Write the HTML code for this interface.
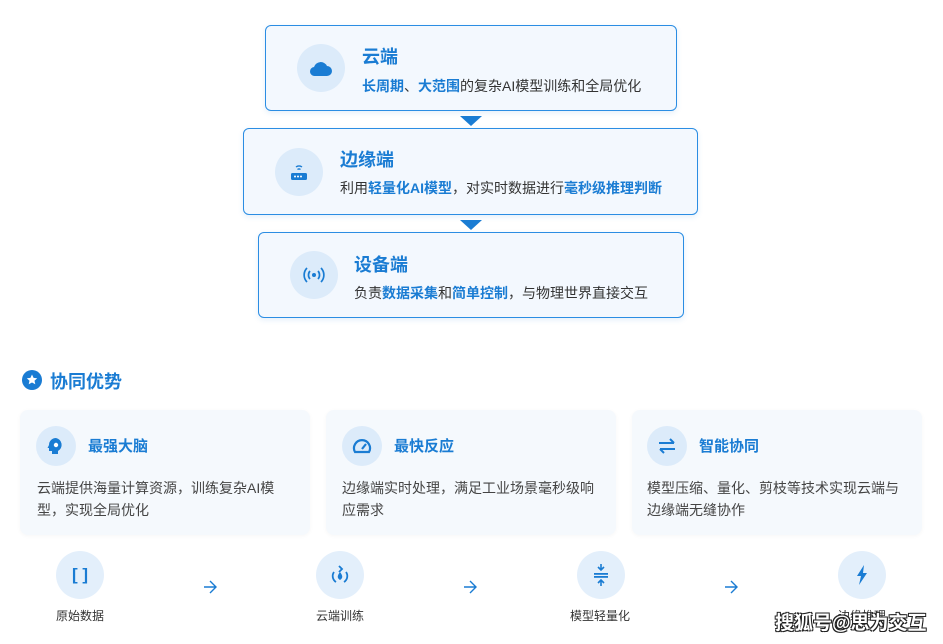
<!DOCTYPE html>
<html><head><meta charset="utf-8"><style>
*{margin:0;padding:0;box-sizing:border-box}
body{width:943px;height:644px;background:#fff;position:relative;overflow:hidden;font-family:"Liberation Sans","Noto Sans CJK SC",sans-serif;color:#333}
.a{position:absolute}
.box{position:absolute;border:1.5px solid #2b8de3;border-radius:6px;background:#f3f8fe;box-shadow:0 2px 6px rgba(30,120,210,0.12)}
.ic{position:absolute;border-radius:50%;background:#dcebfa;display:flex;align-items:center;justify-content:center}
.t{position:absolute;font-size:18px;font-weight:bold;color:#1a7cd3;white-space:nowrap;line-height:1}
.s{position:absolute;font-size:14px;color:#333;white-space:nowrap;line-height:1}
.s b{color:#1a7cd3;font-weight:600}
.tri{position:absolute;width:0;height:0;border-left:11px solid transparent;border-right:11px solid transparent;border-top:10px solid #1a7cd3}
.card{position:absolute;top:410px;width:290px;height:125px;background:#f5f9fd;border-radius:8px;box-shadow:0 1px 4px rgba(0,0,0,0.04)}
.ct{position:absolute;font-size:15px;font-weight:bold;color:#1a7cd3;line-height:1;white-space:nowrap}
.cx{position:absolute;font-size:14px;color:#444;line-height:22px}
.fl{position:absolute;font-size:12px;color:#333;white-space:nowrap;line-height:1}
</style></head><body>

<div class="box" style="left:265px;top:25px;width:412px;height:86px"></div>
<div class="ic" style="left:297px;top:44px;width:48px;height:48px"><svg width="24" height="18" viewBox="0 0 24 18"><path d="M6 17h12a5 5 0 0 0 0-10 7 7 0 0 0-13 1 4.5 4.5 0 0 0 1 9z" fill="#1a7cd3"/></svg></div>
<div class="t" style="left:362px;top:48px">云端</div>
<div class="s" style="left:362px;top:79px"><b>长周期</b>、<b>大范围</b>的复杂AI模型训练和全局优化</div>
<div class="tri" style="left:460px;top:116px"></div>

<div class="box" style="left:243px;top:128px;width:455px;height:87px"></div>
<div class="ic" style="left:275px;top:148px;width:48px;height:48px"><svg width="22" height="20" viewBox="0 0 22 20"><path d="M8 5a5 5 0 0 1 6 0M9.5 7.5a2.5 2.5 0 0 1 3 0" stroke="#1a7cd3" stroke-width="1.4" fill="none"/><rect x="3" y="11" width="16" height="7" rx="1.5" fill="#1a7cd3"/><circle cx="7" cy="14.5" r="1" fill="#fff"/><circle cx="10" cy="14.5" r="1" fill="#fff"/><circle cx="13" cy="14.5" r="1" fill="#fff"/></svg></div>
<div class="t" style="left:340px;top:151px">边缘端</div>
<div class="s" style="left:340px;top:181px">利用<b>轻量化AI模型</b>，对实时数据进行<b>毫秒级推理判断</b></div>
<div class="tri" style="left:460px;top:220px"></div>

<div class="box" style="left:258px;top:232px;width:426px;height:86px"></div>
<div class="ic" style="left:290px;top:251px;width:48px;height:48px"><svg width="24" height="16" viewBox="0 0 24 16"><circle cx="12" cy="8" r="2" fill="#1a7cd3"/><path d="M8 4a6 6 0 0 0 0 8M16 4a6 6 0 0 1 0 8M5 1a10 10 0 0 0 0 14M19 1a10 10 0 0 1 0 14" stroke="#1a7cd3" stroke-width="1.7" fill="none"/></svg></div>
<div class="t" style="left:354px;top:256px">设备端</div>
<div class="s" style="left:354px;top:286px">负责<b>数据采集</b>和<b>简单控制</b>，与物理世界直接交互</div>

<svg class="a" style="left:22px;top:370px" width="20" height="20" viewBox="0 0 20 20"><circle cx="10" cy="10" r="10" fill="#1a7cd3"/><path d="M10 4.5l1.6 3.4 3.6.4-2.7 2.4.8 3.6L10 12.5l-3.3 1.8.8-3.6-2.7-2.4 3.6-.4z" fill="#fff"/></svg>
<div class="a" style="left:50px;top:373px;font-size:18px;font-weight:bold;color:#1a7cd3;line-height:1">协同优势</div>

<div class="card" style="left:20px"></div>
<div class="ic" style="left:36px;top:426px;width:40px;height:40px"><svg width="18" height="18" viewBox="0 0 18 18"><path d="M9 1a7 7 0 0 0-7 7l-1.5 3H2v3h3v3h6v-3a7 7 0 0 0-2-13z" fill="#1a7cd3"/><circle cx="9" cy="8" r="2.2" fill="#fff"/></svg></div>
<div class="ct" style="left:88px;top:439px">最强大脑</div>
<div class="cx" style="left:37px;top:477px;width:260px">云端提供海量计算资源，训练复杂AI模型，实现全局优化</div>

<div class="card" style="left:326px"></div>
<div class="ic" style="left:342px;top:426px;width:40px;height:40px"><svg width="20" height="18" viewBox="0 0 20 18"><path d="M3 15a8 8 0 1 1 14 0z" fill="none" stroke="#1a7cd3" stroke-width="2.2"/><path d="M10 12l4-5" stroke="#1a7cd3" stroke-width="2.2"/></svg></div>
<div class="ct" style="left:394px;top:439px">最快反应</div>
<div class="cx" style="left:342px;top:477px;width:262px">边缘端实时处理，满足工业场景毫秒级响应需求</div>

<div class="card" style="left:632px"></div>
<div class="ic" style="left:647px;top:426px;width:40px;height:40px"><svg width="20" height="16" viewBox="0 0 20 16"><path d="M2 5h15M13 1l4 4M18 11H3M7 15l-4-4" stroke="#1a7cd3" stroke-width="2" fill="none"/></svg></div>
<div class="ct" style="left:699px;top:439px">智能协同</div>
<div class="cx" style="left:647px;top:477px;width:265px">模型压缩、量化、剪枝等技术实现云端与边缘端无缝协作</div>

<div class="ic" style="left:56px;top:551px;width:48px;height:48px;background:#e3effb"><span style="color:#1a7cd3;font-weight:bold;font-size:17px">[ ]</span></div>
<div class="fl" style="left:56px;top:610px">原始数据</div>
<svg class="a" style="left:203px;top:580px" width="15" height="14" viewBox="0 0 15 14"><path d="M1 7h12M7 1l6 6-6 6" stroke="#1a7cd3" stroke-width="1.4" fill="none"/></svg>
<div class="ic" style="left:316px;top:551px;width:48px;height:48px;background:#e3effb"><svg width="20" height="22" viewBox="0 0 20 22"><path d="M4 8a7 7 0 0 0 2 10M16 8a7 7 0 0 1-2 10M9 2l3 3-3 3" stroke="#1a7cd3" stroke-width="1.8" fill="none"/><path d="M10 8c-3 4-3 6 0 8c3-2 3-4 0-8z" fill="#1a7cd3"/></svg></div>
<div class="fl" style="left:316px;top:610px">云端训练</div>
<svg class="a" style="left:463px;top:580px" width="15" height="14" viewBox="0 0 15 14"><path d="M1 7h12M7 1l6 6-6 6" stroke="#1a7cd3" stroke-width="1.4" fill="none"/></svg>
<div class="ic" style="left:577px;top:551px;width:48px;height:48px;background:#e3effb"><svg width="18" height="24" viewBox="0 0 18 24"><path d="M9 1v6M6 4l3 3 3-3M9 23v-6M6 20l3-3 3 3" stroke="#1a7cd3" stroke-width="1.6" fill="none"/><rect x="2" y="10" width="14" height="1.8" fill="#1a7cd3"/><rect x="2" y="13" width="14" height="1.8" fill="#1a7cd3"/></svg></div>
<div class="fl" style="left:570px;top:610px">模型轻量化</div>
<svg class="a" style="left:724px;top:580px" width="15" height="14" viewBox="0 0 15 14"><path d="M1 7h12M7 1l6 6-6 6" stroke="#1a7cd3" stroke-width="1.4" fill="none"/></svg>
<div class="ic" style="left:838px;top:551px;width:48px;height:48px;background:#e3effb"><svg width="12" height="20" viewBox="0 0 12 20"><path d="M8 0L1 11h4l-2 9 8-12H7z" fill="#1a7cd3"/></svg></div>
<div class="fl" style="left:838px;top:610px">边缘推理</div>

<div class="a" style="left:775px;top:614px;font-size:19px;font-weight:bold;color:#fff;line-height:1;white-space:nowrap;text-shadow:-1px -1px 0 #222,1px -1px 0 #222,-1px 1px 0 #222,1px 1px 0 #222">搜狐号@思为交互</div>
</body></html>
